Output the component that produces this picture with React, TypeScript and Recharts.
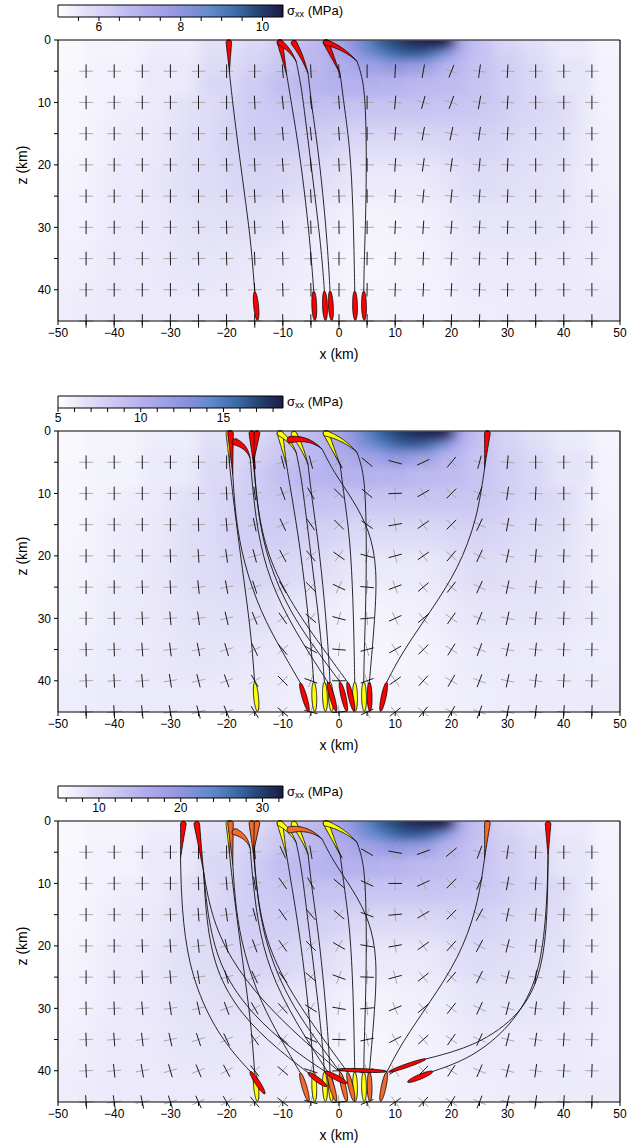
import React from 'react';
import { ComposedChart, XAxis, YAxis, Scatter, Line, ReferenceArea } from 'recharts';

// ---------- layout ----------
const FONT = '"Liberation Sans", Arial, Helvetica, sans-serif';
const CHART_W = 627;
const CHART_H = 370;
const M_TOP = 30;
const TOP_AXIS_H = 10;
const LEFT_AXIS_W = 58;
const RIGHT_AXIS_W = 7;
const BOTTOM_AXIS_H = 49;
const PLOT_X = LEFT_AXIS_W;
const PLOT_Y = M_TOP + TOP_AXIS_H;
const PLOT_W = CHART_W - LEFT_AXIS_W - RIGHT_AXIS_W;
const PLOT_H = CHART_H - PLOT_Y - BOTTOM_AXIS_H;
const X_DOMAIN: [number, number] = [-50, 50];
const Z_DOMAIN: [number, number] = [0, 45];
const SX = PLOT_W / (X_DOMAIN[1] - X_DOMAIN[0]);
const SZ = PLOT_H / (Z_DOMAIN[1] - Z_DOMAIN[0]);

// ---------- axes ----------
const X_TICKS = [-50, -45, -40, -35, -30, -25, -20, -15, -10, -5, 0, 5, 10, 15, 20, 25, 30, 35, 40, 45, 50];
const Z_TICKS = [0, 5, 10, 15, 20, 25, 30, 35, 40];

const CB_TICKS_1 = [5.5, 6, 6.5, 7, 7.5, 8, 8.5, 9, 9.5, 10];
const CB_LABELS_1 = [6, 8, 10];
const CB_TICKS_2 = [5, 6, 7, 8, 9, 10, 11, 12, 13, 14, 15, 16, 17, 18];
const CB_LABELS_2 = [5, 10, 15];
const CB_TICKS_3 = [6, 8, 10, 12, 14, 16, 18, 20, 22, 24, 26, 28, 30, 32];
const CB_LABELS_3 = [10, 20, 30];

// colour scale (fraction of the colour bar -> colour)
const CMAP: [number, string][] = [
  [0, '#ffffff'],
  [0.12, '#e4e2f8'],
  [0.25, '#ccc8f3'],
  [0.4, '#aeaaec'],
  [0.55, '#8e94e0'],
  [0.68, '#6189cb'],
  [0.8, '#3a68a6'],
  [0.9, '#24406f'],
  [1, '#1d1a45'],
];

// ---------- sigma_xx field (MPa) ----------
const FIELD_Z = [0.5, 2, 4, 7, 11, 16, 22, 29, 36, 43];
const X_FINE = [-50, -40, -30, -20, -15, -10, -5, 0, 2.5, 5, 7.5, 10, 12.5, 15, 17.5, 19.5, 21, 23, 25, 30, 35, 40, 50];
const X_MID = [-50, -40, -30, -20, -15, -10, -5, 0, 5, 10, 15, 20, 25, 30, 35, 40, 50];
const X_COARSE = [-50, -35, -25, -15, -5, 5, 15, 25, 35, 50];
const FIELD_X = [X_FINE, X_FINE, X_MID, X_MID, X_COARSE, X_COARSE, X_COARSE, X_COARSE, X_COARSE, X_COARSE];
const NEAR_SURFACE_ROWS = 4; // rows 0..3 are drawn with a finer smoothing

const SXX_1 = [
  [5.15, 5.25, 5.4, 5.7, 5.9, 6.2, 6.7, 7.3, 8.0, 8.8, 9.5, 9.9, 10.2, 10.4, 10.45, 10.4, 7.4, 6.9, 6.5, 6.0, 5.7, 5.5, 5.25],
  [5.15, 5.25, 5.4, 5.75, 6.0, 6.35, 6.8, 7.3, 7.8, 8.4, 8.9, 9.4, 9.6, 9.5, 8.8, 8.0, 7.2, 6.8, 6.5, 6.1, 5.8, 5.5, 5.25],
  [5.15, 5.3, 5.5, 5.85, 6.1, 6.45, 6.8, 7.1, 7.5, 7.9, 7.6, 6.9, 6.5, 6.2, 5.9, 5.6, 5.3],
  [5.2, 5.3, 5.5, 5.95, 6.3, 6.65, 6.9, 7.0, 7.0, 6.95, 6.8, 6.7, 6.5, 6.2, 5.95, 5.6, 5.3],
  [5.2, 5.4, 5.75, 6.3, 6.6, 6.5, 6.5, 6.4, 5.95, 5.3],
  [5.2, 5.45, 5.8, 6.25, 6.2, 5.9, 5.9, 6.1, 5.8, 5.35],
  [5.25, 5.5, 5.8, 6.05, 5.85, 5.5, 5.5, 5.85, 5.7, 5.35],
  [5.3, 5.5, 5.7, 5.75, 5.5, 5.25, 5.35, 5.6, 5.6, 5.4],
  [5.35, 5.5, 5.6, 5.55, 5.4, 5.2, 5.3, 5.5, 5.5, 5.4],
  [5.4, 5.5, 5.5, 5.45, 5.35, 5.25, 5.3, 5.4, 5.45, 5.45],
];

const SXX_2 = [
  [5.4, 5.6, 6.0, 6.7, 7.2, 8.0, 9.2, 10.7, 12.4, 14.4, 16.1, 17.1, 17.8, 18.3, 18.5, 18.3, 11.0, 9.7, 8.8, 7.5, 6.7, 6.2, 5.6],
  [5.4, 5.6, 6.0, 6.9, 7.5, 8.3, 9.4, 10.6, 11.9, 13.4, 14.6, 15.9, 16.4, 16.1, 14.4, 12.4, 10.4, 9.4, 8.7, 7.7, 7.0, 6.2, 5.6],
  [5.4, 5.7, 6.2, 7.1, 7.7, 8.6, 9.4, 10.2, 11.2, 12.2, 11.4, 9.7, 8.7, 7.9, 7.2, 6.5, 5.7],
  [5.5, 5.7, 6.2, 7.3, 8.2, 9.1, 9.7, 9.9, 9.9, 9.8, 9.4, 9.2, 8.7, 8.0, 7.4, 6.5, 5.7],
  [5.5, 6.0, 6.9, 8.2, 9.0, 8.7, 8.7, 8.5, 7.4, 5.7],
  [5.5, 6.1, 7.0, 8.1, 7.9, 7.2, 7.2, 7.7, 7.0, 5.9],
  [5.6, 6.2, 7.0, 7.6, 7.1, 6.2, 6.2, 7.1, 6.7, 5.9],
  [5.7, 6.2, 6.7, 6.9, 6.2, 5.6, 5.9, 6.5, 6.5, 6.0],
  [5.9, 6.2, 6.5, 6.4, 6.0, 5.5, 5.7, 6.2, 6.2, 6.0],
  [6.0, 6.2, 6.2, 6.1, 5.9, 5.6, 5.7, 6.0, 6.1, 6.1],
];

const SXX_3 = [
  [5.8, 6.3, 7.0, 8.5, 9.5, 11.0, 13.5, 16.5, 20.0, 24.0, 27.5, 29.5, 31.0, 32.0, 32.4, 32.0, 17.0, 14.5, 12.5, 10.0, 8.5, 7.5, 6.3],
  [5.8, 6.3, 7.0, 8.8, 10.0, 11.8, 14.0, 16.5, 19.0, 22.0, 24.5, 27.0, 28.0, 27.5, 24.0, 20.0, 15.5, 13.8, 12.5, 10.5, 9.0, 7.5, 6.3],
  [5.8, 6.5, 7.5, 9.3, 10.5, 12.3, 14.0, 15.5, 17.5, 19.5, 18.0, 14.5, 12.5, 11.0, 9.5, 8.0, 6.5],
  [6.0, 6.5, 7.5, 9.8, 11.5, 13.3, 14.5, 15.0, 15.0, 14.8, 14.0, 13.5, 12.5, 11.0, 9.8, 8.0, 6.5],
  [6.0, 7.0, 8.8, 11.5, 13.0, 12.5, 12.5, 12.0, 9.8, 6.5],
  [6.0, 7.3, 9.0, 11.3, 11.0, 9.5, 9.5, 10.5, 9.0, 6.8],
  [6.3, 7.5, 9.0, 10.3, 9.3, 7.5, 7.5, 9.3, 8.5, 6.8],
  [6.5, 7.5, 8.5, 8.8, 7.5, 6.3, 6.8, 8.0, 8.0, 7.0],
  [6.8, 7.5, 8.0, 7.8, 7.0, 6.0, 6.5, 7.5, 7.5, 7.0],
  [7.0, 7.5, 7.5, 7.3, 6.8, 6.3, 6.5, 7.0, 7.3, 7.3],
];

// ---------- principal stress orientation grid ----------
// rows z = 5..45 km, columns x = -45..45 km; angle of the sigma_1 bar from vertical (deg, + = "/")
const CROSS_X = [-45, -40, -35, -30, -25, -20, -15, -10, -5, 0, 5, 10, 15, 20, 25, 30, 35, 40, 45];
const CROSS_Z = [5, 10, 15, 20, 25, 30, 35, 40, 45];

const ANG_1 = [
  [0, 0, 0, 0, 0, 0, 0, -5, -3, -3, 0, 3, 10, 22, 8, 3, 0, 0, 0],
  [0, 0, 0, 0, 0, 0, -3, -6, -6, -4, 0, 5, 15, 20, 10, 4, 0, 0, 0],
  [0, 0, 0, 0, 0, 0, -3, -5, -6, -4, 0, 5, 10, 12, 8, 4, 0, 0, 0],
  [0, 0, 0, 0, 0, -2, -3, -4, -4, -3, 0, 4, 8, 8, 6, 3, 0, 0, 0],
  [0, 0, 0, 0, 0, -2, -3, -3, -3, -2, 0, 3, 6, 6, 5, 3, 0, 0, 0],
  [0, 0, 0, 0, -2, -2, -3, -3, -2, -1, 0, 3, 4, 5, 4, 2, 0, 0, 0],
  [0, 0, 0, -1, -2, -2, -2, -2, -2, 0, 1, 2, 3, 4, 3, 2, 0, 0, 0],
  [0, 0, 0, 0, -1, -2, -2, -2, -1, 0, 1, 2, 3, 3, 3, 1, 0, 0, 0],
  [0, 0, 0, 0, -1, -1, -1, -1, -1, 0, 1, 1, 2, 2, 2, 1, 0, 0, 0],
];

const ANG_2 = [
  [0, 0, 0, 0, 0, 0, -5, -15, -15, -30, -50, -75, 65, 40, 15, 5, 0, 0, 0],
  [0, 0, 0, 0, 0, -3, -8, -20, -30, -45, -50, 88, 60, 45, 20, 8, 3, 0, 0],
  [0, 0, 0, 0, -2, -5, -12, -25, -35, -45, -55, 80, 55, 45, 25, 10, 4, 0, 0],
  [0, 0, 0, -2, -4, -8, -15, -28, -40, -55, -75, 75, 55, 40, 25, 12, 5, 2, 0],
  [0, 0, -2, -3, -6, -10, -18, -30, -45, -65, -85, 70, 50, 38, 25, 12, 6, 2, 0],
  [0, -1, -3, -5, -8, -13, -22, -35, -50, -75, 85, 65, 50, 35, 22, 12, 6, 3, 0],
  [-1, -2, -4, -7, -11, -16, -25, -40, -60, -85, 75, 60, 45, 32, 20, 12, 6, 3, 1],
  [-2, -3, -5, -9, -14, -20, -30, -45, -70, 90, 70, 55, 42, 30, 20, 12, 7, 3, 1],
  [-2, -4, -6, -10, -15, -22, -32, -50, -75, 85, 65, 52, 40, 30, 20, 12, 7, 4, 2],
];

const ANG_3 = [
  [0, 0, 0, 0, 0, 0, -5, -25, -10, -30, -60, -80, 70, 50, 20, 8, 3, 0, 0],
  [0, 0, 0, 0, -2, -5, -10, -35, -30, -50, -65, 90, 65, 45, 25, 10, 4, 0, 0],
  [0, 0, 0, -2, -4, -8, -15, -35, -40, -50, -70, 85, 60, 45, 28, 12, 5, 2, 0],
  [0, 0, -2, -4, -6, -12, -20, -35, -45, -60, -80, 80, 55, 42, 28, 14, 6, 2, 0],
  [0, -1, -3, -5, -9, -15, -25, -38, -50, -70, -88, 75, 52, 40, 26, 14, 7, 3, 0],
  [-1, -2, -5, -8, -13, -20, -30, -42, -58, -80, 85, 68, 50, 38, 25, 14, 7, 3, 1],
  [-2, -4, -7, -12, -18, -25, -35, -48, -65, -88, 78, 62, 48, 35, 24, 14, 8, 4, 2],
  [-3, -6, -10, -16, -22, -28, -38, -50, -72, 88, 72, 58, 45, 33, 23, 14, 8, 4, 2],
  [-4, -8, -12, -18, -24, -30, -40, -52, -75, 85, 68, 55, 43, 32, 22, 14, 8, 4, 2],
];

// ---------- dikes (head x,z -> tail tx,tz in km; b = bow in km) ----------
type Dike = { k: 'tear' | 'wing' | 'ell' | 'sill'; x: number; z: number; tx: number; tz: number; b?: number };

// first set of dikes
const DIKES_A: Dike[] = [
  { k: 'tear', x: -19.6, z: 0.4, tx: -19.5, tz: 5.2 },
  { k: 'tear', x: -10.5, z: 0.4, tx: -9.3, tz: 5.6 },
  { k: 'tear', x: -10.5, z: 0.4, tx: -7.6, tz: 3.5, b: -0.3 },
  { k: 'tear', x: -8.0, z: 0.5, tx: -5.5, tz: 5.4, b: -0.2 },
  { k: 'tear', x: -2.3, z: 0.4, tx: 0.2, tz: 5.4 },
  { k: 'tear', x: -2.3, z: 0.4, tx: 3.2, tz: 3.4, b: -0.4 },
  { k: 'ell', x: -15.0, z: 40.3, tx: -14.5, tz: 44.9 },
  { k: 'ell', x: -4.5, z: 40.2, tx: -4.3, tz: 44.9 },
  { k: 'ell', x: -2.6, z: 40.2, tx: -2.4, tz: 44.9 },
  { k: 'ell', x: -1.6, z: 40.2, tx: -1.3, tz: 44.9 },
  { k: 'ell', x: 2.8, z: 40.2, tx: 2.9, tz: 44.9 },
  { k: 'ell', x: 4.4, z: 40.2, tx: 4.5, tz: 44.9 },
];

// second set of dikes
const DIKES_B: Dike[] = [
  { k: 'tear', x: -19.3, z: 0.4, tx: -18.9, tz: 7.0 },
  { k: 'wing', x: -18.4, z: 1.8, tx: -15.8, tz: 4.4, b: -0.5 },
  { k: 'tear', x: -15.5, z: 0.4, tx: -15.0, tz: 6.8 },
  { k: 'tear', x: -14.6, z: 0.4, tx: -15.2, tz: 5.0 },
  { k: 'wing', x: -8.6, z: 1.4, tx: -3.0, tz: 2.9, b: -0.7 },
  { k: 'tear', x: 26.4, z: 0.4, tx: 25.9, tz: 6.0 },
  { k: 'ell', x: -6.9, z: 40.3, tx: -5.4, tz: 44.9 },
  { k: 'ell', x: -2.0, z: 40.2, tx: -0.5, tz: 44.9 },
  { k: 'ell', x: 0.2, z: 40.2, tx: 1.4, tz: 44.9 },
  { k: 'ell', x: 1.5, z: 40.2, tx: 2.7, tz: 44.9 },
  { k: 'ell', x: 5.4, z: 40.2, tx: 5.5, tz: 44.9 },
  { k: 'ell', x: 8.5, z: 40.2, tx: 7.4, tz: 44.9 },
];

// third set of dikes
const DIKES_C: Dike[] = [
  { k: 'tear', x: -27.7, z: 0.5, tx: -28.2, tz: 5.9 },
  { k: 'tear', x: -25.3, z: 0.5, tx: -24.1, tz: 8.1 },
  { k: 'tear', x: 37.2, z: 0.5, tx: 37.2, tz: 5.9 },
  { k: 'ell', x: -15.8, z: 40.1, tx: -13.2, tz: 43.7 },
  { k: 'ell', x: -5.5, z: 40.3, tx: -2.2, tz: 42.5 },
  { k: 'ell', x: -2.5, z: 40.1, tx: 1.4, tz: 42.0 },
  { k: 'sill', x: -0.4, z: 39.8, tx: 8.5, tz: 40.1 },
  { k: 'sill', x: 8.8, z: 40.2, tx: 15.5, tz: 38.1 },
  { k: 'ell', x: 12.2, z: 41.8, tx: 16.7, tz: 40.1 },
];

// ---------- dike trajectories [x, z] ----------
const LINES_A: [number, number][][] = [
  [[-19.5, 5.2], [-18.8, 11], [-17.8, 18], [-16.6, 26], [-15.6, 33], [-15.0, 40.3]],
  [[-9.3, 5.6], [-8.3, 11], [-7.1, 17.6], [-5.9, 26], [-5.0, 34], [-4.5, 40.2]],
  [[-7.6, 3.5], [-6.8, 7], [-6.2, 11], [-5.3, 17.6], [-4.0, 27], [-3.0, 35], [-2.6, 40.2]],
  [[-5.5, 5.4], [-4.8, 11], [-3.7, 17.6], [-2.6, 27], [-1.9, 35], [-1.6, 40.2]],
  [[0.2, 5.4], [1.0, 11], [2.0, 17.6], [2.5, 27], [2.7, 35], [2.8, 40.2]],
  [[3.2, 3.4], [4.2, 6], [4.7, 10], [4.9, 17.6], [4.8, 27], [4.5, 35], [4.4, 40.2]],
];

const LINES_B: [number, number][][] = [
  [[-18.9, 7.0], [-18.4, 14], [-17, 21], [-14, 29], [-10, 35.5], [-6.9, 40.3]],
  [[-15.8, 4.4], [-15.3, 10], [-14.2, 18], [-11.5, 26], [-6.5, 34], [-2.0, 40.2]],
  [[-15.0, 6.8], [-14.3, 14], [-12.6, 21], [-8.8, 29], [-3.3, 36], [0.2, 40.2]],
  [[-15.2, 5.0], [-14.6, 12], [-12.8, 20], [-8.3, 28], [-2.3, 35.5], [1.5, 40.2]],
  [[-3.0, 2.9], [-1.0, 6.5], [2.5, 11], [5.5, 16], [6.8, 22], [6.4, 30], [5.4, 40.2]],
  [[25.9, 6.0], [24.6, 14], [21.3, 22], [16.2, 29], [11.2, 35.5], [8.5, 40.2]],
];

const LINES_C: [number, number][][] = [
  [[-28.2, 5.9], [-28.0, 14], [-26.8, 23], [-23.5, 31], [-19.5, 36.5], [-15.8, 40.1]],
  [[-24.1, 8.1], [-23.6, 16], [-22, 24], [-17.5, 31], [-11, 36.5], [-5.5, 40.3]],
  [[-24.1, 8.1], [-23.3, 16], [-21, 24], [-15.5, 31], [-8.5, 36.5], [-2.5, 40.1]],
  [[-24.1, 8.1], [-22.8, 15], [-19.5, 22], [-13.5, 29], [-6.5, 35], [-0.4, 39.8]],
  [[37.2, 5.9], [37.1, 15], [36.2, 24], [32.5, 31], [24.5, 36], [15.5, 38.1]],
  [[37.2, 5.9], [36.9, 16], [35.3, 26], [30.5, 33], [23.5, 38], [16.7, 40.1]],
];

// ---------- styles ----------
const YELLOW = '#ffff00';
const ORANGE = '#f26a2c';
const RED = '#ff0000';
const DIKE_WIDTH = { tear: 5.6, wing: 7, ell: 4.8, sill: 3.6 };
const CROSS_HALF = 6.8;

// ---------- helpers ----------
function hexToRgb(h: string) {
  const n = parseInt(h.slice(1), 16);
  return [(n >> 16) & 255, (n >> 8) & 255, n & 255];
}
function colorAt(v: number, range: [number, number]) {
  const t = Math.max(0, Math.min(1, (v - range[0]) / (range[1] - range[0])));
  for (let i = 1; i < CMAP.length; i++) {
    if (t <= CMAP[i][0]) {
      const [t0, c0] = CMAP[i - 1];
      const [t1, c1] = CMAP[i];
      const f = (t - t0) / (t1 - t0);
      const a = hexToRgb(c0);
      const b = hexToRgb(c1);
      const m = a.map((q, k) => Math.round(q + (b[k] - q) * f));
      return `rgb(${m[0]},${m[1]},${m[2]})`;
    }
  }
  return CMAP[CMAP.length - 1][1];
}

// cells of the field for rows [from, to); the first row drawn is stretched up past the surface
function fieldCells(values: number[][], from: number, to: number) {
  const cells: any[] = [];
  for (let i = from; i < to; i++) {
    const z = FIELD_Z[i];
    const zT = i === from ? -6 : (FIELD_Z[i - 1] + z) / 2;
    const zB = i === FIELD_Z.length - 1 ? 52 : (z + FIELD_Z[i + 1]) / 2;
    const xs = FIELD_X[i];
    xs.forEach((x, j) => {
      const xL = j === 0 ? -60 : (xs[j - 1] + x) / 2;
      const xR = j === xs.length - 1 ? 60 : (x + xs[j + 1]) / 2;
      cells.push({ x, z, xL, xR, zT, zB, v: values[i][j] });
    });
  }
  return cells;
}

function crossPoints(angles: number[][]) {
  const pts: any[] = [];
  CROSS_Z.forEach((z, r) => CROSS_X.forEach((x, c) => pts.push({ x, z, a: angles[r][c] })));
  return pts;
}

const toPts = (line: [number, number][]) => line.map(([x, z]) => ({ x, z }));

const fmtX = (v: number) => (v % 10 === 0 ? String(v).replace('-', '\u2212') : '');
const fmtZ = (v: number) => (v % 10 === 0 ? String(v) : '');
const blank = () => '';

// ---------- shapes ----------
function HeatCell(props: any) {
  const { cx, cy, payload, range } = props;
  const x = cx + (payload.xL - payload.x) * SX;
  const y = cy + (payload.zT - payload.z) * SZ;
  const w = (payload.xR - payload.xL) * SX;
  const h = (payload.zB - payload.zT) * SZ;
  return <rect x={x} y={y} width={w + 0.6} height={h + 0.6} fill={colorAt(payload.v, range)} />;
}

function CrossMark(props: any) {
  const { cx, cy, payload } = props;
  const a = (payload.a * Math.PI) / 180;
  const bx = Math.sin(a) * CROSS_HALF;
  const by = -Math.cos(a) * CROSS_HALF;
  return (
    <g>
      <line x1={cx + by} y1={cy - bx} x2={cx - by} y2={cy + bx} stroke="#a9a9a9" strokeWidth={1} />
      <line x1={cx - bx} y1={cy - by} x2={cx + bx} y2={cy + by} stroke="#1c1c1c" strokeWidth={1} />
    </g>
  );
}

function DikeShape(props: any) {
  const { cx, cy, payload, fill } = props;
  const d: Dike = payload;
  const tx = cx + (d.tx - d.x) * SX;
  const ty = cy + (d.tz - d.z) * SZ;
  const dx = tx - cx;
  const dy = ty - cy;
  const L = Math.hypot(dx, dy) || 1;
  const ux = dx / L;
  const uy = dy / L;
  const nx = -uy;
  const ny = ux;
  const bow = (d.b || 0) * SX;
  const r = DIKE_WIDTH[d.k] / 2;
  const N = 28;
  const left: number[][] = [];
  const right: number[][] = [];
  const closed = d.k === 'ell' || d.k === 'sill';
  for (let i = 0; i <= N; i++) {
    const s = i / N;
    const off = bow * 4 * s * (1 - s);
    const px = cx + dx * s + nx * off;
    const py = cy + dy * s + ny * off;
    const hw = closed ? r * 2 * Math.sqrt(s * (1 - s)) : r * Math.pow(1 - s, 1.1);
    left.push([px + nx * hw, py + ny * hw]);
    right.push([px - nx * hw, py - ny * hw]);
  }
  const pts = [...left, ...right.reverse()];
  if (!closed) {
    for (let i = 1; i < 12; i++) {
      const phi = (Math.PI * i) / 12;
      pts.push([cx - nx * r * Math.cos(phi) - ux * r * Math.sin(phi), cy - ny * r * Math.cos(phi) - uy * r * Math.sin(phi)]);
    }
  }
  const path = 'M' + pts.map((p) => `${p[0].toFixed(2)},${p[1].toFixed(2)}`).join('L') + 'Z';
  return <path d={path} fill={fill} stroke="#000" strokeWidth={0.8} strokeLinejoin="round" />;
}

// ---------- panels ----------
type Group = { fill: string; dikes: Dike[]; lines: [number, number][][] };
type PanelSpec = {
  top: number;
  range: [number, number];
  cbTicks: number[];
  cbLabels: number[];
  field: number[][];
  angles: number[][];
  groups: Group[];
};

const PANELS: PanelSpec[] = [
  {
    top: 0,
    range: [5, 10.5],
    cbTicks: CB_TICKS_1,
    cbLabels: CB_LABELS_1,
    field: SXX_1,
    angles: ANG_1,
    groups: [{ fill: RED, dikes: DIKES_A, lines: LINES_A }],
  },
  {
    top: 391,
    range: [5, 18.6],
    cbTicks: CB_TICKS_2,
    cbLabels: CB_LABELS_2,
    field: SXX_2,
    angles: ANG_2,
    groups: [
      { fill: YELLOW, dikes: DIKES_A, lines: LINES_A },
      { fill: RED, dikes: DIKES_B, lines: LINES_B },
    ],
  },
  {
    top: 781,
    range: [5, 32.5],
    cbTicks: CB_TICKS_3,
    cbLabels: CB_LABELS_3,
    field: SXX_3,
    angles: ANG_3,
    groups: [
      { fill: YELLOW, dikes: DIKES_A, lines: LINES_A },
      { fill: ORANGE, dikes: DIKES_B, lines: LINES_B },
      { fill: RED, dikes: DIKES_C, lines: LINES_C },
    ],
  },
];

function ColorBar({ range, ticks, labels }: { range: [number, number]; ticks: number[]; labels: number[] }) {
  return (
    <ComposedChart width={300} height={45} margin={{ top: 5, right: 17, left: 58, bottom: 0 }}>
      <XAxis
        dataKey="x"
        type="number"
        domain={range}
        ticks={ticks}
        interval={0}
        tickFormatter={(v: number) => (labels.includes(v) ? String(v) : '')}
        tickSize={4}
        tickMargin={1}
        height={28}
        axisLine={false}
        tickLine={{ stroke: '#000' }}
        tick={{ fontSize: 12, fill: '#000' }}
        allowDataOverflow
      />
      <YAxis hide type="number" domain={[0, 1]} allowDataOverflow />
      <ReferenceArea
        x1={range[0]}
        x2={range[1]}
        y1={0}
        y2={1}
        fill="url(#cmapGrad)"
        fillOpacity={1}
        stroke="#000"
        strokeWidth={1}
        ifOverflow="visible"
      />
    </ComposedChart>
  );
}

function Panel({ spec }: { spec: PanelSpec }) {
  const deepCells = fieldCells(spec.field, NEAR_SURFACE_ROWS, FIELD_Z.length);
  const surfaceCells = fieldCells(spec.field, 0, NEAR_SURFACE_ROWS);
  const crosses = crossPoints(spec.angles);
  const allLines = spec.groups.flatMap((g) => g.lines);
  const axisProps = {
    stroke: '#000',
    axisLine: { stroke: '#000', strokeWidth: 1.2 },
    tickLine: { stroke: '#000' },
    tickSize: 4,
  };
  return (
    <div style={{ position: 'absolute', left: 0, top: spec.top, width: CHART_W, height: 390 }}>
      <div style={{ position: 'absolute', left: 0, top: 0 }}>
        <ColorBar range={spec.range} ticks={spec.cbTicks} labels={spec.cbLabels} />
      </div>
      <div style={{ position: 'absolute', left: 287, top: 3, fontSize: 13, lineHeight: '16px', whiteSpace: 'nowrap' }}>
        σ<sub style={{ fontSize: 9, verticalAlign: '-2px' }}>xx</sub> (MPa)
      </div>
      <div style={{ position: 'absolute', left: 0, top: 0 }}>
        <ComposedChart width={CHART_W} height={CHART_H} margin={{ top: M_TOP, right: 0, bottom: 0, left: 0 }}>
          <XAxis
            dataKey="x"
            type="number"
            domain={X_DOMAIN}
            ticks={X_TICKS}
            interval={0}
            tickFormatter={fmtX}
            tickMargin={3}
            height={BOTTOM_AXIS_H}
            tick={{ fontSize: 12, fill: '#000' }}
            {...axisProps}
          />
          <XAxis
            xAxisId="top"
            orientation="top"
            dataKey="x"
            type="number"
            domain={X_DOMAIN}
            ticks={X_TICKS}
            interval={0}
            tickFormatter={blank}
            height={TOP_AXIS_H}
            {...axisProps}
          />
          <YAxis
            dataKey="z"
            type="number"
            domain={Z_DOMAIN}
            reversed
            ticks={Z_TICKS}
            interval={0}
            tickFormatter={fmtZ}
            tickMargin={3}
            width={LEFT_AXIS_W}
            tick={{ fontSize: 12, fill: '#000' }}
            {...axisProps}
          />
          <YAxis
            yAxisId="right"
            orientation="right"
            dataKey="z"
            type="number"
            domain={Z_DOMAIN}
            reversed
            ticks={Z_TICKS}
            interval={0}
            tickFormatter={blank}
            width={RIGHT_AXIS_W}
            {...axisProps}
          />
          <Scatter
            data={deepCells}
            dataKey="z"
            className="heat-deep"
            isAnimationActive={false}
            zIndex={9}
            shape={(p: any) => <HeatCell {...p} range={spec.range} />}
          />
          <Scatter
            data={surfaceCells}
            dataKey="z"
            className="heat-surface"
            isAnimationActive={false}
            zIndex={10}
            shape={(p: any) => <HeatCell {...p} range={spec.range} />}
          />
          <Scatter data={crosses} dataKey="z" isAnimationActive={false} zIndex={20} shape={(p: any) => <CrossMark {...p} />} />
          {allLines.map((ln, i) => (
            <Line
              key={'ln' + i}
              data={toPts(ln)}
              dataKey="z"
              type="basis"
              stroke="#111"
              strokeWidth={0.9}
              dot={false}
              activeDot={false}
              isAnimationActive={false}
              zIndex={30}
            />
          ))}
          {spec.groups.map((g, i) => (
            <Scatter
              key={'dk' + i}
              data={g.dikes}
              dataKey="z"
              isAnimationActive={false}
              zIndex={40 + i}
              shape={(p: any) => <DikeShape {...p} fill={g.fill} />}
            />
          ))}
        </ComposedChart>
      </div>
      <div
        style={{
          position: 'absolute',
          left: PLOT_X + PLOT_W / 2 - 50,
          width: 100,
          top: 346,
          textAlign: 'center',
          fontSize: 14,
          lineHeight: '16px',
        }}
      >
        x (km)
      </div>
      <div
        style={{
          position: 'absolute',
          left: 22 - 50,
          width: 100,
          top: 165 - 8,
          textAlign: 'center',
          fontSize: 14,
          lineHeight: '16px',
          transform: 'rotate(-90deg)',
        }}
      >
        z (km)
      </div>
    </div>
  );
}

export default function App() {
  return (
    <div style={{ position: 'absolute', left: 0, top: 0, width: 627, height: 1147, background: '#fff', fontFamily: FONT, color: '#000' }}>
      <svg width={0} height={0} style={{ position: 'absolute' }} aria-hidden="true">
        <defs>
          <linearGradient id="cmapGrad" x1="0" y1="0" x2="1" y2="0">
            {CMAP.map(([t, c]) => (
              <stop key={t} offset={t} stopColor={c} />
            ))}
          </linearGradient>
          <filter id="blurDeep" x="-10%" y="-10%" width="120%" height="120%" colorInterpolationFilters="sRGB">
            <feGaussianBlur stdDeviation="17 10" />
          </filter>
          <filter id="blurSurface" x="-10%" y="-20%" width="120%" height="140%" colorInterpolationFilters="sRGB">
            <feGaussianBlur stdDeviation="7 5" />
          </filter>
          <clipPath id="plotClip" clipPathUnits="userSpaceOnUse">
            <rect x={PLOT_X + 0.6} y={PLOT_Y + 0.6} width={PLOT_W - 1.2} height={PLOT_H - 1.2} />
          </clipPath>
        </defs>
      </svg>
      <style>{`.heat-deep { filter: url(#blurDeep); clip-path: url(#plotClip); } .heat-surface { filter: url(#blurSurface); clip-path: url(#plotClip); }`}</style>
      {PANELS.map((p, i) => (
        <Panel key={i} spec={p} />
      ))}
    </div>
  );
}
